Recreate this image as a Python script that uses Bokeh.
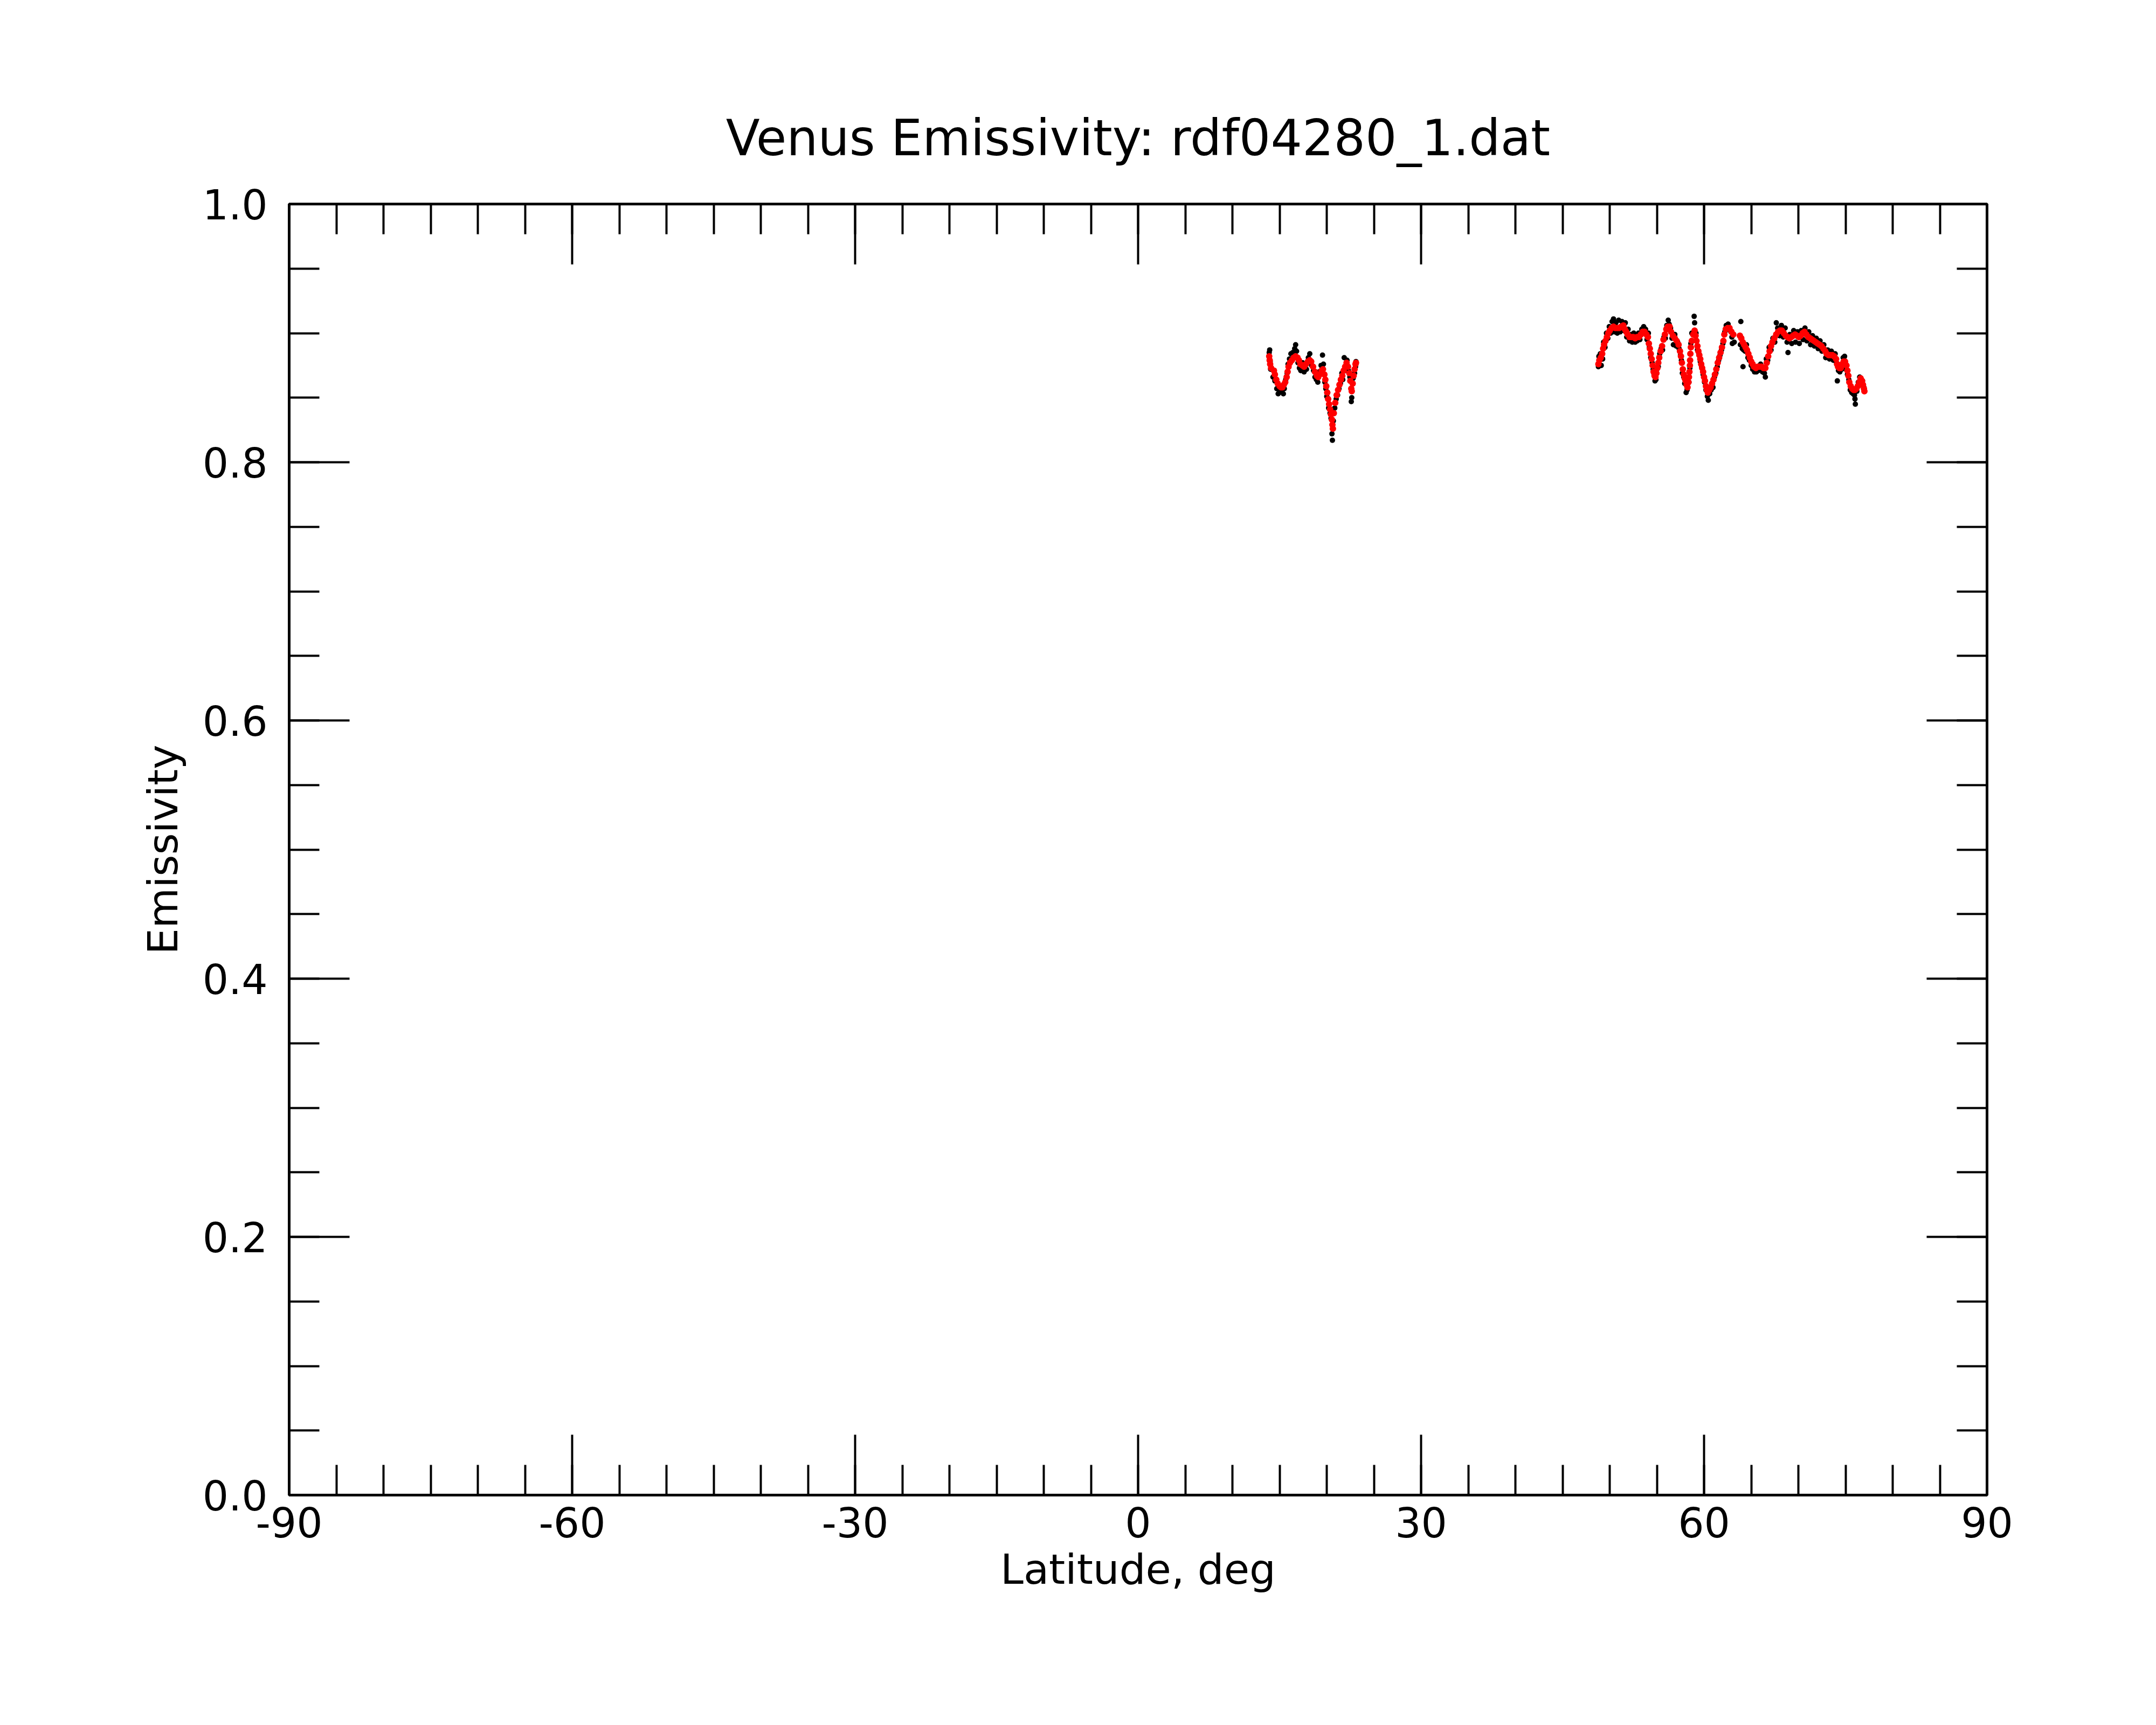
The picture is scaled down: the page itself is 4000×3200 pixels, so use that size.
from bokeh.plotting import figure
from bokeh.models import (LinearAxis, SingleIntervalTicker, PrintfTickFormatter,
                          CustomJSTickFormatter, Range1d)
from bokeh.embed import file_html
from bokeh.resources import INLINE

# ---------------- data ----------------
title_text = "Venus Emissivity: rdf04280_1.dat"
x_label = "Latitude, deg"
y_label = "Emissivity"

# raw measurements (black dots), segment 1
raw_lat_1 = [13.90, 13.95, 14.00, 14.05, 14.30, 14.50, 14.70, 14.85, 15.00, 15.20,
             15.40, 15.50, 15.65, 15.80, 15.90, 16.05, 16.20, 16.40, 16.60, 16.70,
             16.80, 16.95, 17.10, 17.25, 17.45, 17.60, 17.85, 18.05, 18.20, 18.40,
             18.60, 18.75, 18.90, 19.05, 19.20, 19.40, 19.55, 19.65, 19.80, 19.90,
             20.00, 20.10, 20.20, 20.35, 20.45, 20.55, 20.60, 20.70, 20.85, 21.00,
             21.15, 21.30, 21.45, 21.60, 21.70, 21.85, 22.00, 22.15, 22.30, 22.45,
             22.60, 22.65, 22.80, 22.95, 23.05, 23.10]
raw_emis_1 = [0.885, 0.887, 0.878, 0.872, 0.866, 0.863, 0.857, 0.853, 0.856, 0.855,
              0.853, 0.857, 0.864, 0.869, 0.876, 0.880, 0.884, 0.885, 0.888, 0.891,
              0.886, 0.877, 0.873, 0.871, 0.877, 0.870, 0.872, 0.881, 0.884, 0.875,
              0.871, 0.866, 0.864, 0.862, 0.870, 0.875, 0.883, 0.876, 0.862, 0.857,
              0.851, 0.854, 0.842, 0.838, 0.834, 0.822, 0.817, 0.832, 0.842, 0.849,
              0.852, 0.857, 0.861, 0.869, 0.864, 0.881, 0.871, 0.879, 0.871, 0.866,
              0.847, 0.850, 0.865, 0.869, 0.874, 0.878]

# smoothed values (red dots), segment 1
fit_lat_1 = [13.90, 13.95, 14.00, 14.10, 14.40, 14.50, 14.65, 14.80, 15.00, 15.15,
             15.30, 15.45, 15.60, 15.75, 15.85, 15.95, 16.10, 16.30, 16.50, 16.70,
             16.90, 17.05, 17.20, 17.40, 17.60, 17.80, 18.00, 18.20, 18.35, 18.55,
             18.75, 18.95, 19.10, 19.25, 19.45, 19.60, 19.75, 19.85, 19.95, 20.05,
             20.15, 20.25, 20.35, 20.45, 20.55, 20.60, 20.65, 20.75, 20.90, 21.05,
             21.20, 21.35, 21.50, 21.65, 21.80, 21.95, 22.10, 22.25, 22.40, 22.50,
             22.60, 22.65, 22.75, 22.85, 22.95, 23.05, 23.10]
fit_emis_1 = [0.882, 0.879, 0.876, 0.873, 0.871, 0.868, 0.864, 0.861, 0.859, 0.858,
              0.858, 0.860, 0.862, 0.866, 0.870, 0.874, 0.877, 0.879, 0.881, 0.882,
              0.881, 0.879, 0.876, 0.875, 0.874, 0.876, 0.878, 0.879, 0.878, 0.874,
              0.870, 0.867, 0.866, 0.868, 0.871, 0.872, 0.868, 0.864, 0.859, 0.854,
              0.849, 0.845, 0.841, 0.837, 0.833, 0.829, 0.826, 0.838, 0.846, 0.852,
              0.856, 0.860, 0.864, 0.867, 0.871, 0.874, 0.877, 0.874, 0.869, 0.863,
              0.857, 0.855, 0.861, 0.867, 0.872, 0.876, 0.877]

# raw measurements (black dots), segment 2
raw_lat_2 = [48.80, 48.85, 49.00, 49.10, 49.25, 49.35, 49.50, 49.65, 49.80, 49.95,
             50.10, 50.25, 50.40, 50.50, 50.65, 50.80, 50.95, 51.10, 51.30, 51.50,
             51.65, 51.80, 51.95, 52.10, 52.25, 52.40, 52.55, 52.70, 52.90, 53.05,
             53.20, 53.40, 53.60, 53.80, 53.95, 54.10, 54.20, 54.35, 54.50, 54.60,
             54.70, 54.80, 54.90, 55.00, 55.15, 55.30, 55.45, 55.60, 55.75, 55.90,
             56.05, 56.20, 56.30, 56.45, 56.60, 56.75, 56.90, 57.05, 57.20, 57.35,
             57.50, 57.60, 57.70, 57.85, 57.95, 58.10, 58.20, 58.40, 58.50, 58.60,
             58.70, 58.95, 59.00, 59.15, 59.30, 59.45, 59.60, 59.75, 59.90, 60.05,
             60.20, 60.35, 60.45, 60.60, 60.75, 60.95, 61.10, 61.25, 61.40, 61.55,
             61.70, 61.85, 62.00, 62.20, 62.35, 62.55, 62.75, 62.95, 63.00, 63.20,
             63.85, 63.90, 64.05, 64.13, 64.20, 64.35, 64.50, 64.65, 64.80, 65.00,
             65.15, 65.35, 65.55, 65.75, 66.00, 66.20, 66.40, 66.50, 66.60, 66.75,
             66.90, 67.10, 67.30, 67.50, 67.66, 67.80, 68.00, 68.20, 68.40, 68.60,
             68.80, 68.90, 69.10, 69.30, 69.50, 69.70, 69.90, 70.10, 70.30, 70.50,
             70.70, 70.90, 71.10, 71.30, 71.50, 71.70, 71.90, 72.10, 72.30, 72.50,
             72.70, 72.90, 73.10, 73.30, 73.50, 73.70, 73.90, 74.05, 74.13, 74.25,
             74.40, 74.60, 74.75, 74.90, 75.05, 75.20, 75.35, 75.50, 75.65, 75.80,
             75.95, 76.00, 76.04, 76.20, 76.35, 76.50, 76.65, 76.80, 76.95]
raw_emis_2 = [0.874, 0.882, 0.884, 0.875, 0.880, 0.893, 0.889, 0.900, 0.896, 0.905,
              0.900, 0.909, 0.911, 0.901, 0.908, 0.900, 0.910, 0.901, 0.909, 0.902,
              0.908, 0.897, 0.903, 0.894, 0.899, 0.893, 0.900, 0.893, 0.894, 0.900,
              0.895, 0.903, 0.905, 0.903, 0.895, 0.900, 0.889, 0.881, 0.877, 0.872,
              0.868, 0.863, 0.864, 0.872, 0.874, 0.884, 0.888, 0.887, 0.897, 0.896,
              0.906, 0.910, 0.907, 0.904, 0.896, 0.891, 0.899, 0.890, 0.893, 0.888,
              0.883, 0.879, 0.869, 0.866, 0.861, 0.854, 0.856, 0.862, 0.873, 0.892,
              0.900, 0.913, 0.908, 0.900, 0.887, 0.884, 0.878, 0.874, 0.868, 0.862,
              0.856, 0.851, 0.848, 0.853, 0.856, 0.858, 0.866, 0.869, 0.874, 0.879,
              0.883, 0.887, 0.892, 0.901, 0.906, 0.907, 0.902, 0.897, 0.892, 0.893,
              0.891, 0.909, 0.888, 0.874, 0.887, 0.886, 0.891, 0.881, 0.879, 0.875,
              0.872, 0.870, 0.870, 0.871, 0.876, 0.870, 0.869, 0.866, 0.880, 0.879,
              0.889, 0.887, 0.896, 0.893, 0.908, 0.904, 0.898, 0.906, 0.897, 0.904,
              0.893, 0.885, 0.899, 0.892, 0.902, 0.893, 0.901, 0.892, 0.902, 0.895,
              0.904, 0.894, 0.901, 0.891, 0.898, 0.890, 0.896, 0.888, 0.894, 0.886,
              0.891, 0.881, 0.887, 0.880, 0.886, 0.879, 0.884, 0.877, 0.863, 0.871,
              0.870, 0.872, 0.881, 0.882, 0.872, 0.868, 0.864, 0.856, 0.854, 0.853,
              0.852, 0.849, 0.845, 0.855, 0.862, 0.866, 0.860, 0.863, 0.858]

# smoothed values (red dots), segment 2
fit_lat_2 = [48.80, 48.90, 49.05, 49.20, 49.30, 49.40, 49.55, 49.70, 49.85, 50.00,
             50.20, 50.40, 50.60, 50.80, 51.00, 51.20, 51.45, 51.60, 51.75, 51.90,
             52.10, 52.30, 52.50, 52.70, 52.90, 53.10, 53.30, 53.50, 53.70, 53.90,
             54.05, 54.15, 54.25, 54.35, 54.45, 54.55, 54.65, 54.75, 54.85, 54.95,
             55.05, 55.15, 55.25, 55.40, 55.55, 55.70, 55.85, 56.00, 56.15, 56.35,
             56.50, 56.70, 56.90, 57.10, 57.30, 57.45, 57.55, 57.65, 57.75, 57.85,
             57.95, 58.05, 58.15, 58.25, 58.35, 58.40, 58.45, 58.50, 58.52, 58.55,
             58.60, 58.70, 58.85, 59.00, 59.10, 59.20, 59.30, 59.40, 59.50, 59.60,
             59.70, 59.80, 59.90, 60.00, 60.10, 60.20, 60.30, 60.40, 60.55, 60.70,
             60.85, 61.00, 61.15, 61.30, 61.45, 61.60, 61.75, 61.90, 62.05, 62.15,
             62.30, 62.50, 62.70, 62.90, 63.10, 63.80, 63.95, 64.10, 64.25, 64.40,
             64.55, 64.70, 64.85, 65.00, 65.15, 65.30, 65.50, 65.70, 65.90, 66.10,
             66.30, 66.50, 66.65, 66.80, 66.95, 67.10, 67.25, 67.45, 67.65, 67.85,
             68.05, 68.25, 68.45, 68.65, 68.85, 69.05, 69.25, 69.45, 69.65, 69.85,
             70.05, 70.25, 70.45, 70.65, 70.85, 71.05, 71.25, 71.45, 71.65, 71.85,
             72.05, 72.25, 72.45, 72.65, 72.85, 73.00, 73.20, 73.40, 73.60, 73.80,
             74.00, 74.10, 74.20, 74.35, 74.50, 74.65, 74.80, 74.95, 75.10, 75.20,
             75.30, 75.40, 75.55, 75.70, 75.85, 76.00, 76.15, 76.30, 76.45, 76.60,
             76.75, 76.85, 76.95, 77.00]
fit_emis_2 = [0.876, 0.879, 0.881, 0.884, 0.888, 0.891, 0.894, 0.897, 0.900, 0.902,
              0.904, 0.905, 0.904, 0.904, 0.904, 0.905, 0.906, 0.903, 0.901, 0.899,
              0.897, 0.897, 0.897, 0.896, 0.897, 0.897, 0.899, 0.901, 0.901, 0.899,
              0.897, 0.892, 0.888, 0.884, 0.880, 0.875, 0.870, 0.867, 0.866, 0.869,
              0.873, 0.877, 0.881, 0.886, 0.890, 0.895, 0.899, 0.903, 0.905, 0.905,
              0.901, 0.898, 0.896, 0.894, 0.891, 0.886, 0.882, 0.877, 0.872, 0.868,
              0.865, 0.863, 0.860, 0.858, 0.862, 0.866, 0.870, 0.875, 0.879, 0.884,
              0.889, 0.894, 0.899, 0.902, 0.898, 0.894, 0.890, 0.886, 0.883, 0.880,
              0.876, 0.873, 0.870, 0.866, 0.863, 0.859, 0.856, 0.854, 0.856, 0.858,
              0.861, 0.864, 0.868, 0.872, 0.877, 0.881, 0.885, 0.889, 0.894, 0.899,
              0.903, 0.904, 0.904, 0.901, 0.899, 0.898, 0.896, 0.893, 0.891, 0.889,
              0.887, 0.884, 0.881, 0.878, 0.876, 0.874, 0.873, 0.874, 0.874, 0.874,
              0.873, 0.873, 0.877, 0.882, 0.886, 0.890, 0.893, 0.896, 0.899, 0.901,
              0.902, 0.902, 0.900, 0.898, 0.897, 0.896, 0.897, 0.898, 0.899, 0.898,
              0.897, 0.898, 0.900, 0.901, 0.899, 0.897, 0.896, 0.895, 0.894, 0.893,
              0.892, 0.891, 0.890, 0.888, 0.886, 0.884, 0.883, 0.883, 0.883, 0.882,
              0.880, 0.876, 0.874, 0.873, 0.873, 0.876, 0.878, 0.878, 0.875, 0.871,
              0.867, 0.862, 0.859, 0.857, 0.856, 0.856, 0.857, 0.859, 0.862, 0.865,
              0.863, 0.860, 0.857, 0.855]

x_major = 30
x_minor_count = 6
y_major = 0.2
y_minor_count = 4

# ---------------- figure ----------------
FONT = "DejaVu Sans"
p = figure(width=3984, height=3184, output_backend="svg", toolbar_location=None,
           x_range=Range1d(-90, 90), y_range=Range1d(0, 1),
           min_border_left=536, min_border_right=298,
           min_border_top=378, min_border_bottom=411,
           x_axis_type=None, y_axis_type=None, title=title_text)
p.background_fill_color = "white"
p.border_fill_color = "white"
p.outline_line_color = "black"
p.outline_line_width = 5
p.xgrid.visible = False
p.ygrid.visible = False

p.title.align = "center"
p.title.text_font = FONT
p.title.text_font_size = "92px"
p.title.text_font_style = "normal"
p.title.text_color = "black"
p.title.standoff = 137


def style_axis(ax):
    ax.axis_line_width = 5
    ax.axis_line_color = "black"
    ax.major_tick_line_width = 4
    ax.minor_tick_line_width = 4
    ax.major_tick_line_color = "black"
    ax.minor_tick_line_color = "black"
    ax.major_tick_in = 112
    ax.major_tick_out = 0
    ax.minor_tick_in = 56
    ax.minor_tick_out = 0
    ax.major_label_text_font = FONT
    ax.major_label_text_font_size = "76px"
    ax.major_label_text_color = "black"
    ax.axis_label_text_font = FONT
    ax.axis_label_text_font_size = "77px"
    ax.axis_label_text_font_style = "normal"
    ax.axis_label_text_color = "black"


xfmt = PrintfTickFormatter(format="%d")
yfmt = PrintfTickFormatter(format="%.1f")
blank = CustomJSTickFormatter(code="return ''")

xb = LinearAxis(ticker=SingleIntervalTicker(interval=x_major, num_minor_ticks=x_minor_count),
                formatter=xfmt, axis_label=x_label)
style_axis(xb)
xb.major_label_standoff = 22
xb.axis_label_standoff = 12
p.add_layout(xb, "below")

xt = LinearAxis(ticker=SingleIntervalTicker(interval=x_major, num_minor_ticks=x_minor_count),
                formatter=blank)
style_axis(xt)
xt.major_label_text_font_size = "0px"
xt.major_label_standoff = 0
p.add_layout(xt, "above")

yl = LinearAxis(ticker=SingleIntervalTicker(interval=y_major, num_minor_ticks=y_minor_count),
                formatter=yfmt, axis_label=y_label)
style_axis(yl)
yl.major_label_standoff = 40
yl.axis_label_standoff = 26
p.add_layout(yl, "left")

yr = LinearAxis(ticker=SingleIntervalTicker(interval=y_major, num_minor_ticks=y_minor_count),
                formatter=blank)
style_axis(yr)
yr.major_label_text_font_size = "0px"
yr.major_label_standoff = 0
p.add_layout(yr, "right")

# raw data (black) first, smoothed (red) on top
for la, em in ((raw_lat_1, raw_emis_1), (raw_lat_2, raw_emis_2)):
    p.scatter(la, em, marker="circle", size=10, fill_color="black", line_color="black",
              line_width=0)
for la, em in ((fit_lat_1, fit_emis_1), (fit_lat_2, fit_emis_2)):
    p.scatter(la, em, marker="circle", size=12, fill_color="red", line_color="red",
              line_width=0)

open("out.html", "w").write(file_html(p, INLINE))
